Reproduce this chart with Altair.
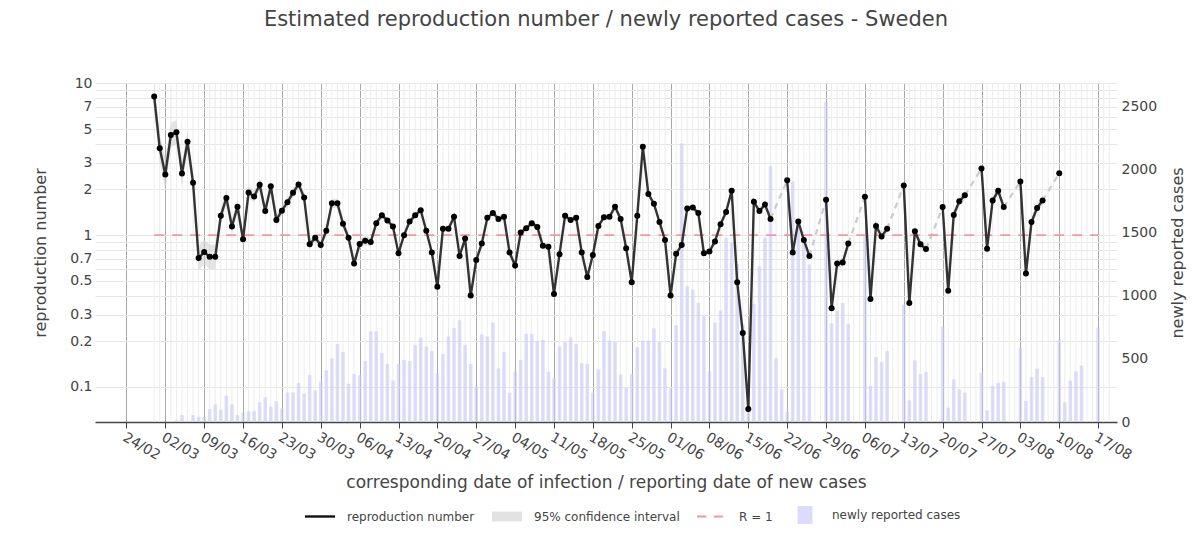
import altair as alt
import pandas as pd

DAY_MS = 86400000
START_MS = 1582502400000  # 24/02/2020 00:00 UTC = day 0

# Estimated reproduction number per day (day 0 = 24/02), None = no estimate
r_values = [
    None, None, None, None, None, 8.2, 3.73,
    2.51, 4.57, 4.76, 2.55, 4.12, 2.21, 0.706,
    0.774, 0.72, 0.72, 1.34, 1.76, 1.14, 1.54,
    0.94, 1.91, 1.80, 2.15, 1.44, 2.10, 1.26,
    1.45, 1.65, 1.90, 2.16, 1.77, 0.87, 0.96,
    0.86, 1.07, 1.62, 1.62, 1.19, 0.96, 0.65,
    0.875, 0.92, 0.90, 1.20, 1.35, 1.25, 1.14,
    0.76, 1.0, 1.23, 1.35, 1.46, 1.07, 0.77,
    0.457, 1.10, 1.10, 1.32, 0.73, 0.95, 0.40,
    0.685, 0.88, 1.30, 1.40, 1.28, 1.32, 0.77,
    0.63, 1.04, 1.11, 1.20, 1.13, 0.85, 0.84,
    0.41, 0.75, 1.34, 1.26, 1.30, 0.77, 0.53,
    0.74, 1.15, 1.31, 1.32, 1.54, 1.28, 0.82,
    0.49, 1.34, 3.82, 1.87, 1.61, 1.22, 0.93,
    0.40, 0.755, 0.86, 1.50, 1.52, 1.40, 0.76,
    0.78, 0.91, 1.18, 1.42, 1.96, 0.49, 0.227,
    0.0717, 1.66, 1.44, 1.59, 1.28, None, None,
    2.30, 0.77, 1.23, 0.93, 0.73, None, None,
    1.71, 0.33, 0.65, 0.66, 0.88, None, None,
    1.79, 0.38, 1.15, 0.98, 1.10, None, None,
    2.12, 0.357, 1.06, 0.87, 0.81, None, None,
    1.53, 0.43, 1.36, 1.67, 1.83, None, None,
    2.75, 0.815, 1.69, 1.96, 1.53, None, None,
    2.26, 0.56, 1.22, 1.51, 1.69, None, None,
    2.56,
]

# Half width of the 95% confidence interval (log10 units x 100), same days
ci_half = [
    None, None, None, None, None, 9, 9,
    11, 8, 8, 8, 7, 7, 8,
    8, 8, 8, 5, 5, 5, 5,
    5, 4, 4, 4, 4, 4, 4,
    3, 3, 3, 3, 3, 3, 3,
    3, 3, 3, 3, 3, 3, 3,
    3, 3, 3, 2, 2, 2, 2,
    3, 2, 2, 2, 2, 2, 3,
    3, 2, 2, 2, 2, 2, 3,
    3, 2, 2, 2, 2, 2, 3,
    3, 2, 2, 2, 2, 2, 2,
    3, 3, 2, 2, 2, 2, 3,
    2, 2, 2, 2, 2, 2, 2,
    3, 2, 2, 2, 2, 2, 2,
    3, 2, 2, 2, 2, 2, 2,
    2, 2, 2, 2, 2, 2, 3,
    3, 2, 2, 2, 2, None, None,
    2, 3, 2, 2, 2, None, None,
    2, 5, 3, 3, 3, None, None,
    2, 5, 3, 3, 3, None, None,
    2, 5, 3, 3, 3, None, None,
    2, 5, 3, 3, 3, None, None,
    2, 4, 3, 3, 3, None, None,
    2, 5, 3, 3, 3, None, None,
    3,
]

# Newly reported cases per day (day 0 = 24/02)
new_cases = [
    0, 0, 0, 0, 0, 0, 0,
    0, 0, 13, 55, 10, 55, 40,
    40, 103, 140, 97, 208, 140, 55,
    77, 85, 85, 156, 195, 121, 164,
    108, 235, 235, 309, 224, 372, 251,
    324, 409, 504, 620, 556, 303, 382,
    372, 483, 720, 720, 546, 461, 330,
    461, 493, 483, 609, 670, 599, 562,
    388, 540, 679, 746, 807, 609, 461,
    280, 694, 679, 788, 425, 556, 232,
    400, 493, 699, 700, 641, 651, 398,
    346, 599, 635, 670, 620, 467, 461,
    232, 417, 722, 646, 638, 377, 271,
    382, 593, 646, 646, 743, 635, 425,
    271, 767, 2210, 1076, 1050, 945, 839,
    402, 788, 886, 1460, 1420, 1250, 780,
    300, 936, 1234, 1460, 2030, 509, 259,
    80, 1907, 1564, 1458, 1248, 0, 0,
    2540, 782, 883, 944, 778, 0, 0,
    1480, 285, 514, 477, 562, 0, 0,
    931, 172, 488, 382, 398, 0, 0,
    759, 113, 338, 259, 232, 0, 0,
    390, 92, 285, 311, 319, 0, 0,
    588, 166, 356, 422, 356, 0, 0,
    655, 156, 330, 400, 447, 0, 0,
    750,
]

legend_names = ["reproduction number", "95% confidence interval", "R = 1",
                "newly reported cases"]
legend_colors = ["#111111", "#e2e2e2", "#ee9aa2", "#dcdcfa"]
legend_shapes = [
    "M-1,-0.08H1V0.08H-1Z",
    "M-1,-0.33H1V0.33H-1Z",
    "M-1,-0.06H-0.38V0.06H-1Z M0.12,-0.06H0.74V0.06H0.12Z",
    "M-0.5,-0.6H0.5V0.6H-0.5Z",
]

FONT = "DejaVu Sans"
TXT = "#444444"


def t(d):
    return START_MS + d * DAY_MS


# ---- tables built from the arrays ----
r_rows, gap_rows = [], []
seg, prev = 0, None
for d, v in enumerate(r_values):
    if v is None:
        continue
    if prev is not None and d - prev > 1:
        seg += 1
        gap_rows.append(dict(t=t(prev), r=r_values[prev], gap=seg))
        gap_rows.append(dict(t=t(d), r=v, gap=seg))
    h = ci_half[d] / 100.0
    r_rows.append(dict(t=t(d), r=v, lo=v * 10 ** (-h), hi=v * 10 ** h, seg=seg))
    prev = d
r_df = pd.DataFrame(r_rows)
gap_df = pd.DataFrame(gap_rows)
case_df = pd.DataFrame([dict(t=t(d), cases=c) for d, c in enumerate(new_cases) if c > 0])
first_r = next(d for d, v in enumerate(r_values) if v is not None)
last_day = len(new_cases) - 1
one_df = pd.DataFrame([dict(t=t(first_r), r=1.0), dict(t=t(last_day), r=1.0)])
week_ticks = [t(d) for d in range(0, last_day + 1, 7)]
daily_df = pd.DataFrame({"t": [t(d) for d in range(first_r, last_day + 3) if d % 7]})
leg_df = pd.DataFrame({"leg": legend_names, "t": [t(-100)] * len(legend_names)})

# ---- shared encodings ----
xscale = alt.Scale(type="utc", domain=[t(-4.76), t(177.5)], nice=False)
xaxis = alt.Axis(
    values=week_ticks,
    labelExpr="utcFormat(datum.value, '%d/%m')",
    labelAngle=30, labelAlign="left", labelBaseline="middle", labelPadding=8,
    labelOffset=-3,
    labelFont=FONT, labelFontSize=14, labelColor=TXT, labelOverlap=False, labelFlush=False,
    grid=True, gridColor="#a8a8a8", gridWidth=1,
    ticks=True, tickColor="#444444", tickSize=6, tickWidth=1,
    domain=True, domainColor="#444444", domainWidth=1.5,
    title="corresponding date of infection / reporting date of new cases",
    titleFont=FONT, titleFontSize=17, titleFontWeight="normal", titleColor=TXT,
    titlePadding=12,
)
X = alt.X("t:T", scale=xscale, axis=xaxis)

grid_vals = [0.1, 0.2, 0.3, 0.4, 0.5, 0.6, 0.7, 0.8, 0.9,
             1, 2, 3, 4, 5, 6, 7, 8, 9, 10]
label_vals = [0.1, 0.2, 0.3, 0.5, 0.7, 1, 2, 3, 5, 7, 10]
yl_scale = alt.Scale(type="log", domain=[0.0588, 10.05], nice=False, zero=False)
yl_axis = alt.Axis(
    orient="left", values=grid_vals,
    labelExpr="indexof(%s, datum.value) >= 0 ? format(datum.value, '') : ''" % label_vals,
    grid=True, gridColor="#e6e6e6", gridWidth=1, ticks=False, domain=False,
    labelFont=FONT, labelFontSize=14, labelColor=TXT, labelPadding=3,
    title="reproduction number", titleFont=FONT, titleFontSize=16,
    titleFontWeight="normal", titleColor=TXT, titlePadding=21,
)


def YL(field):
    return alt.Y(field, scale=yl_scale, axis=yl_axis)


yr_axis = alt.Axis(
    orient="right", values=[0, 500, 1000, 1500, 2000, 2500], format="d",
    grid=False, ticks=False, domain=False,
    labelFont=FONT, labelFontSize=14, labelColor=TXT, labelPadding=4,
    title="newly reported cases", titleFont=FONT, titleFontSize=16,
    titleFontWeight="normal", titleColor=TXT, titlePadding=29, titleAngle=270,
)

# ---- layers ----
daily = alt.Chart(daily_df).mark_rule(color="#ececec", strokeWidth=1).encode(x=X)

bars = alt.Chart(case_df).mark_bar(size=3.6, color="#c9c9f6", opacity=0.6).encode(
    x=X,
    y=alt.Y("cases:Q", scale=alt.Scale(domain=[0, 2688], nice=False, zero=False), axis=yr_axis),
)

leg_def = alt.Legend(
    title=None, orient="none", direction="horizontal", columns=4,
    legendX=210, legendY=417, columnPadding=17, labelOffset=12,
    labelFont=FONT, labelFontSize=12, labelColor=TXT, symbolSize=900,
    symbolStrokeWidth=0, symbolOpacity=1,
)
leg = alt.Chart(leg_df).mark_point(clip=True, filled=True, size=900, strokeWidth=0).encode(
    x=X,
    color=alt.Color("leg:N", scale=alt.Scale(domain=legend_names, range=legend_colors),
                    legend=leg_def),
    shape=alt.Shape("leg:N", scale=alt.Scale(domain=legend_names, range=legend_shapes),
                    legend=leg_def),
)

ci = alt.Chart(r_df).mark_area(color="#cfcfcf", opacity=0.55).encode(
    x=X, y=YL("lo:Q"), y2="hi:Q", detail="seg:N")
gaps = alt.Chart(gap_df).mark_line(color="#cccccc", strokeWidth=2.2, strokeDash=[6, 5]).encode(
    x=X, y=YL("r:Q"), detail="gap:N")
one = alt.Chart(one_df).mark_line(color="#ee9aa2", strokeWidth=1.6, strokeDash=[10, 8]).encode(
    x=X, y=YL("r:Q"))
line = alt.Chart(r_df).mark_line(color="#333333", strokeWidth=2.4).encode(
    x=X, y=YL("r:Q"), detail="seg:N")
pts = alt.Chart(r_df).mark_circle(color="#000000", size=36, opacity=1).encode(
    x=X, y=YL("r:Q"))

left = alt.layer(ci, gaps, one, line, pts)

chart = alt.layer(daily, bars, leg, left).resolve_scale(y="independent").properties(
    width=1022, height=339,
    autosize=alt.AutoSizeParams(type="none"),
    padding={"left": 87, "top": 75, "right": 75, "bottom": 103},
    background="white",
    title=alt.TitleParams(
        text="Estimated reproduction number / newly reported cases - Sweden",
        font=FONT, fontSize=21, fontWeight="normal", color=TXT,
        anchor="middle", frame="group", offset=46,
    ),
).configure_view(stroke=None)

chart.save("out.html", embed_options={"renderer": "svg", "actions": False})
